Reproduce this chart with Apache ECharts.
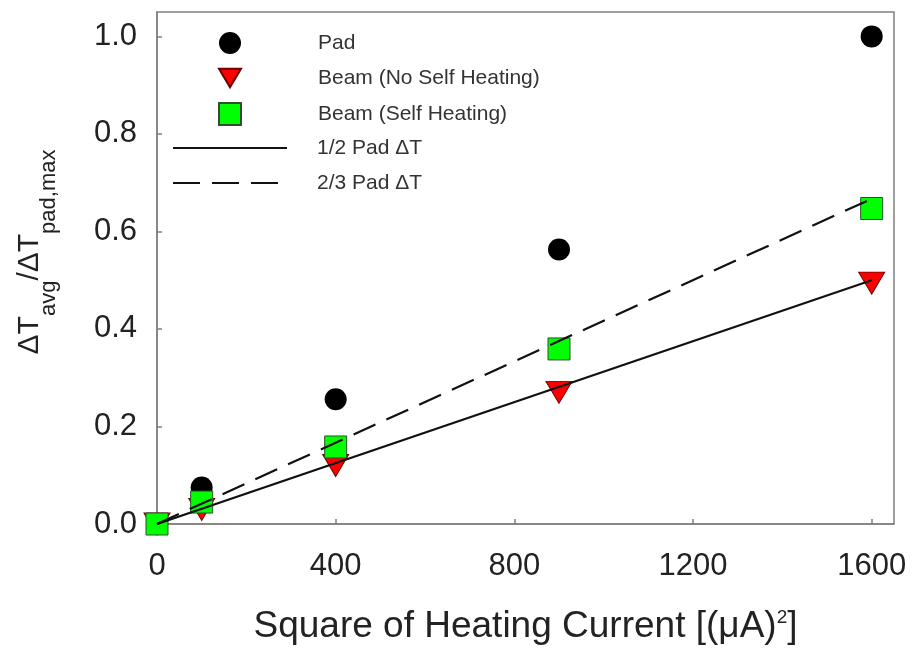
<!DOCTYPE html>
<html>
<head>
<meta charset="utf-8">
<script src="https://cdn.jsdelivr.net/npm/echarts@6/dist/echarts.min.js"></script>
<style>
html,body{margin:0;padding:0;background:#fff;}
#chart{width:914px;height:650px;}
</style>
</head>
<body>
<div id="chart"></div>
<script>
// ---- data ----
const xValues = [0, 100, 400, 900, 1600];
const padValues = [0, 0.075, 0.256, 0.563, 1.0];
const beamNoSelfValues = [0, 0.03, 0.12, 0.27, 0.494];
const beamSelfValues = [0, 0.045, 0.158, 0.359, 0.647];
const lineX = [0, 1600];
const halfPadLine = [0, 0.5];
const twoThirdPadLine = [0, 0.667];
const markerNames = ['Pad', 'Beam (No Self Heating)', 'Beam (Self Heating)'];
const lineNames = ['1/2 Pad ΔT', '2/3 Pad ΔT'];

const pair = (xs, ys) => xs.map((x, i) => [x, ys[i]]);
const FONT = 'Liberation Sans, Arial, sans-serif';
const legendText = (pad) => ({ fontFamily: FONT, fontSize: 21, lineHeight: 22, color: '#333', padding: [0, 0, 0, pad] });

const chart = echarts.init(document.getElementById('chart'));
chart.setOption({
  animation: false,
  backgroundColor: '#fff',
  grid: { left: 157, right: 20, top: 12, bottom: 126, show: true, borderColor: '#808080', borderWidth: 1.5 },
  legend: [
    {
      orient: 'vertical',
      left: 218,
      top: 32,
      padding: 0,
      itemWidth: 22,
      itemHeight: 22,
      itemGap: 13,
      textStyle: legendText(72),
      data: [
        { name: markerNames[0], icon: 'circle' },
        { name: markerNames[1], icon: 'path://M0,0L26,0L13,22Z' },
        { name: markerNames[2], icon: 'rect' }
      ]
    },
    {
      orient: 'vertical',
      left: 173,
      top: 137,
      padding: 0,
      itemWidth: 114,
      itemHeight: 2.2,
      itemGap: 13,
      textStyle: legendText(25),
      data: [
        { name: lineNames[0], icon: 'path://M0,0H114V2.2H0Z' },
        { name: lineNames[1], icon: 'path://M0,0h27v2.2h-27z M39,0h27v2.2h-27z M78,0h27v2.2h-27z M113.99,0h0.01v0.01h-0.01z' }
      ]
    }
  ],
  xAxis: {
    type: 'value',
    min: 0, max: 1650, interval: 400,
    splitLine: { show: false },
    axisLine: { lineStyle: { color: '#808080', width: 1.5 } },
    axisTick: { inside: true, length: 5, lineStyle: { color: '#808080', width: 1.5 } },
    axisLabel: { showMaxLabel: false, margin: 27, fontFamily: FONT, fontSize: 31, color: '#222', formatter: v => String(v) },
    name: '{m|Square of Heating Current [(μA)}{sup|2}{m|]}',
    nameLocation: 'middle',
    nameGap: 84,
    nameTextStyle: {
      rich: {
        m: { fontFamily: FONT, fontSize: 37, color: '#222', verticalAlign: 'bottom' },
        sup: { fontFamily: FONT, fontSize: 19, color: '#222', verticalAlign: 'top' }
      }
    }
  },
  yAxis: {
    type: 'value',
    min: 0, max: 1.05, interval: 0.2,
    splitLine: { show: false },
    axisLine: { lineStyle: { color: '#808080', width: 1.5 } },
    axisTick: { inside: true, length: 5, lineStyle: { color: '#808080', width: 1.5 } },
    axisLabel: { showMaxLabel: false, margin: 20, fontFamily: FONT, fontSize: 31, color: '#222', formatter: v => v.toFixed(1) },
    name: '{m|ΔT}{s|avg}{m|/ΔT}{s|pad,max}',
    nameLocation: 'middle',
    nameGap: 97,
    nameTextStyle: {
      padding: [0, 0, 0, 32],
      rich: {
        m: { fontFamily: FONT, fontSize: 30, lineHeight: 30, color: '#222', verticalAlign: 'bottom', padding: [0, 0, 15, 0] },
        s: { fontFamily: FONT, fontSize: 22, lineHeight: 22, color: '#222', verticalAlign: 'bottom' }
      }
    }
  },
  series: [
    {
      name: markerNames[0], type: 'scatter', symbol: 'circle', symbolSize: 22,
      itemStyle: { color: '#000', opacity: 1 },
      data: pair(xValues, padValues)
    },
    {
      name: markerNames[1], type: 'scatter', symbol: 'triangle', symbolRotate: 180, symbolSize: [26, 22],
      itemStyle: { color: '#ff0000', borderColor: '#6a0000', borderWidth: 1, opacity: 1 },
      data: pair(xValues, beamNoSelfValues)
    },
    {
      name: markerNames[2], type: 'scatter', symbol: 'rect', symbolSize: 22,
      itemStyle: { color: '#00ff00', borderColor: '#2f4f2f', borderWidth: 1, opacity: 1 },
      data: pair(xValues, beamSelfValues)
    },
    {
      name: lineNames[0], type: 'line', symbol: 'none', z: 5,
      lineStyle: { color: '#111', width: 2.2, type: 'solid' },
      itemStyle: { color: '#111' },
      data: pair(lineX, halfPadLine)
    },
    {
      name: lineNames[1], type: 'line', symbol: 'none', z: 5,
      lineStyle: { color: '#111', width: 2.2, type: [24, 12] },
      itemStyle: { color: '#111' },
      data: pair(lineX, twoThirdPadLine)
    }
  ]
});
</script>
</body>
</html>
